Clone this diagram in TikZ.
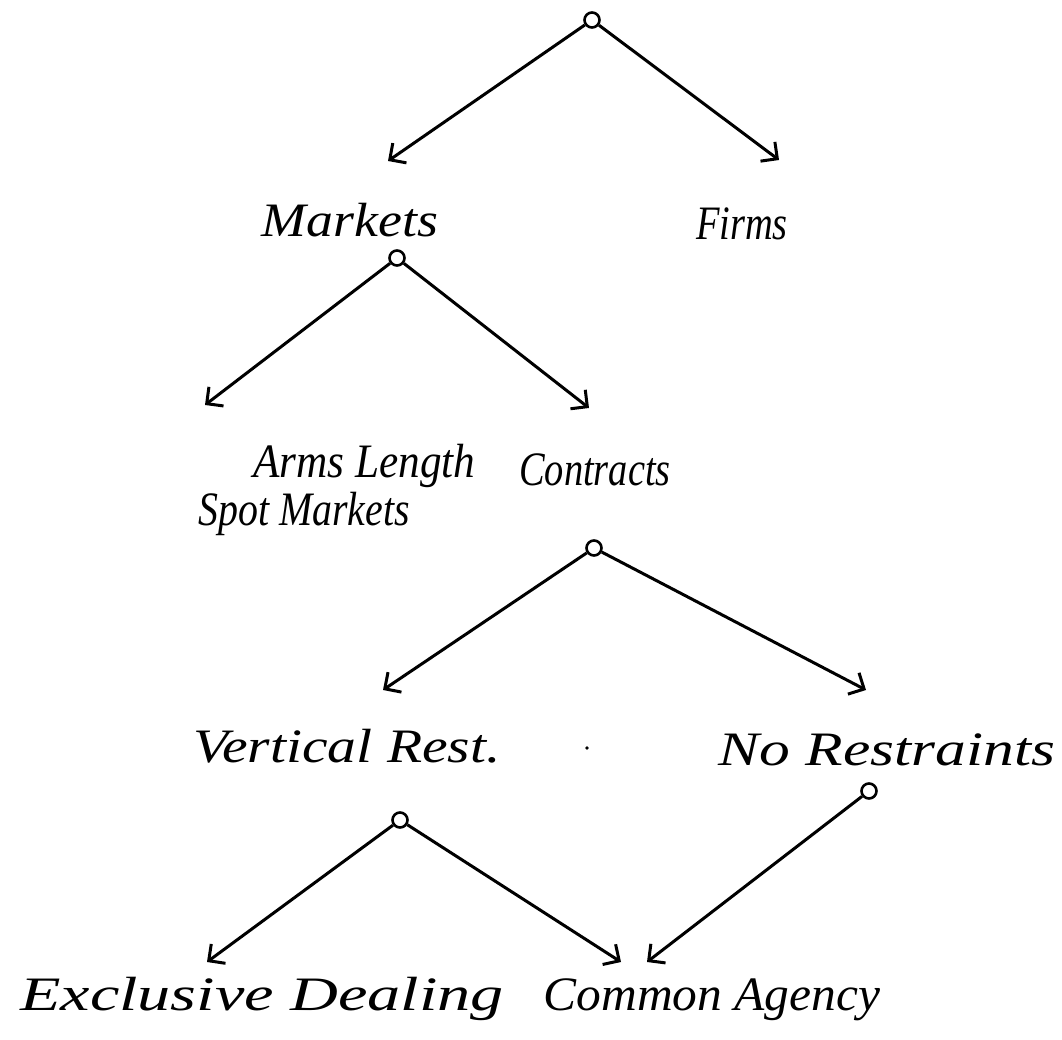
\documentclass[tikz,border=0pt]{standalone}
\usepackage{fontspec}
\setmainfont{Liberation Serif}
\usetikzlibrary{arrows.meta}
\newcommand{\hstretch}[2]{\scalebox{#1}[1]{#2}}
\begin{document}
\begin{tikzpicture}[x=1pt,y=-1pt,
  root/.style={circle,draw,line width=2.6pt,inner sep=0pt,minimum size=15pt},
  lbl/.style={font=\fontsize{48}{48}\selectfont\itshape,inner sep=0pt,align=left,anchor=base},
  edge/.style={line width=3pt,-{Straight Barb[angle=90:17pt,line width=3pt]}}]
\useasboundingbox (0,0) rectangle (1062,1040);
% level 1
\node[root] (c1) at (592,20) {};
\node[lbl] (markets) at (350,237) {\hstretch{1.12}{Markets}};
\node[lbl] (firms) at (742,240) {\hstretch{0.8}{Firms}};
\coordinate (m-in) at (388,161);
\coordinate (f-in) at (779,160);
\draw[edge] (c1) -- (m-in);
\draw[edge] (c1) -- (f-in);
% level 2
\node[root] (c2) at (397,258) {};
\node[lbl,anchor=center] (arms) at (337,490) {\hspace*{55pt}\hstretch{0.9}{Arms Length}\\\hstretch{0.83}{Spot Markets}};
\node[lbl] (contracts) at (595,485) {\hstretch{0.8}{Contracts}};
\coordinate (a-in) at (205,405);
\coordinate (ct-in) at (589,408);
\draw[edge] (c2) -- (a-in);
\draw[edge] (c2) -- (ct-in);
% level 3
\node[root] (c3) at (594,548) {};
\node[lbl] (vert) at (347,762) {\hstretch{1.2}{Vertical Rest.}};
\node[lbl] (norest) at (887,765) {\hstretch{1.28}{No Restraints}};
\fill (587,748) circle (1.8pt);
\coordinate (v-in) at (383,690);
\coordinate (n-in) at (866,690);
\draw[edge] (c3) -- (v-in);
\draw[edge] (c3) -- (n-in);
% level 4
\node[root] (c4) at (400,820) {};
\node[root] (c5) at (869,791) {};
\node[lbl] (excl) at (262,1010) {\hstretch{1.38}{Exclusive Dealing}};
\node[lbl] (common) at (712,1010) {\hstretch{1.03}{Common Agency}};
\coordinate (e-in) at (207,962);
\coordinate (co-in1) at (621,962);
\coordinate (co-in2) at (647,962);
\draw[edge] (c4) -- (e-in);
\draw[edge] (c4) -- (co-in1);
\draw[edge] (c5) -- (co-in2);
\end{tikzpicture}
\end{document}
